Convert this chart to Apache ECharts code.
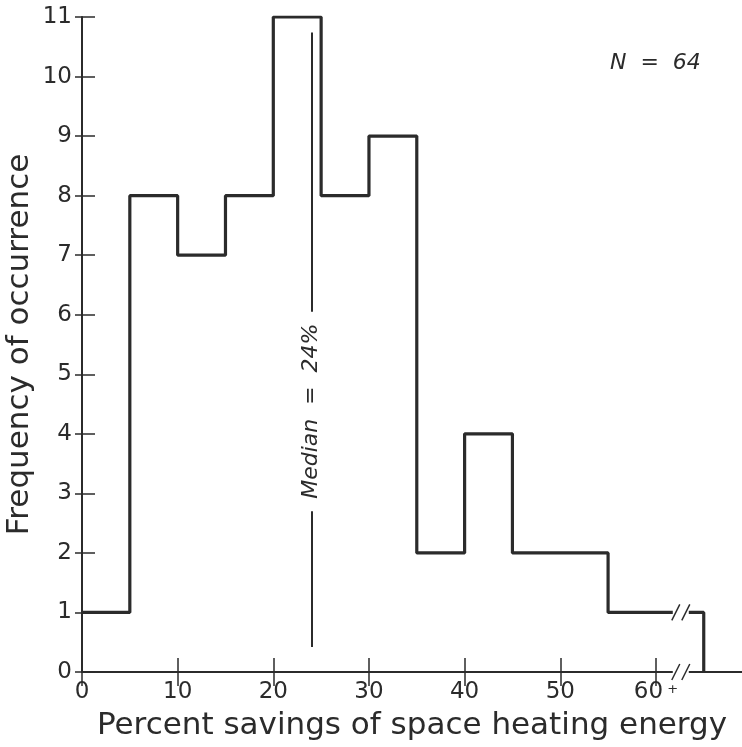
<!DOCTYPE html>
<html>
<head>
<meta charset="utf-8">
<style>
  html, body { margin: 0; padding: 0; background: #fff; }
  #chart { width: 742px; height: 747px; }
</style>
<script src="https://cdn.jsdelivr.net/npm/echarts@6/dist/echarts.min.js"></script>
</head>
<body>
<div id="chart"></div>
<script>
  // 直方图数据（每个区间起点与频数）
  const binStarts = [0, 5, 10, 15, 20, 25, 30, 35, 40, 45, 50, 55, 60];
  const counts = [1, 8, 7, 8, 11, 8, 9, 2, 4, 2, 2, 1, 1];
  const lastBinEnd = 65;
  const xTickValues = [0, 10, 20, 30, 40, 50, 60];
  const medianValue = 24;
  const medianLine = [0.42, 2.7, 6.05, 10.74]; // 两段竖线的上下端
  const medianLabelAt = 4.38;
  const sampleSize = 64;
  const breakAt = 62.6; // 坐标轴断开的位置
  const breakRows = [1, 0];

  const ink = '#2b2b2b';
  const font = 'DejaVu Sans';

  let stepData = binStarts.map((s, i) => [s, counts[i]]);
  stepData.push([lastBinEnd, 0]);

  let chart = echarts.init(document.getElementById('chart'));
  let option = {
    animation: false,
    backgroundColor: '#fff',
    title: {
      text: 'N  =  ' + sampleSize,
      left: 605,
      top: 47,
      textStyle: {fontFamily: font, fontSize: 22, fontWeight: 'normal', fontStyle: 'italic', color: ink}
    },
    grid: {left: 82, right: 0, top: 17, bottom: 75, outerBoundsMode: 'none', containLabel: false},
    xAxis: [
      {
        type: 'value',
        min: 0,
        max: 69,
        interval: 10,
        name: 'Percent savings of space heating energy',
        nameLocation: 'middle',
        nameGap: 38,
        nameMoveOverlap: false,
        nameTextStyle: {fontFamily: font, fontSize: 31, color: ink},
        axisLine: {lineStyle: {color: ink, width: 2}},
        axisTick: {inside: true, length: 14, customValues: xTickValues, lineStyle: {color: ink, width: 1.5}},
        splitLine: {show: false},
        axisLabel: {
          margin: 9,
          customValues: xTickValues,
          fontFamily: font,
          fontSize: 23,
          color: ink,
          formatter: v => v === 60 ? '60{p| +}' : String(v),
          rich: {p: {fontSize: 13, fontFamily: font, color: ink, padding: [0, 0, 6, 0]}}
        }
      },
      {
        type: 'value',
        position: 'top',
        min: 0,
        max: 69,
        interval: 10,
        axisLine: {show: true, lineStyle: {color: ink, width: 2}},
        axisTick: {inside: true, length: 14, customValues: xTickValues, lineStyle: {color: ink, width: 1.5}},
        axisLabel: {show: false},
        splitLine: {show: false}
      }
    ],
    yAxis: [
      {
        type: 'value',
        min: 0,
        max: 11,
        interval: 1,
        name: 'Frequency of occurrence',
        nameLocation: 'middle',
        nameGap: 47,
        nameMoveOverlap: false,
        nameTextStyle: {fontFamily: font, fontSize: 31, color: ink},
        axisLine: {show: true, lineStyle: {color: ink, width: 2}},
        axisTick: {show: true, inside: true, length: 13, lineStyle: {color: ink, width: 1.5}},
        splitLine: {show: false},
        axisLabel: {margin: 10, fontFamily: font, fontSize: 23, color: ink}
      },
      {
        type: 'value',
        position: 'right',
        min: 0,
        max: 11,
        interval: 1,
        axisLine: {show: false},
        axisTick: {show: true, inside: true, length: 7, lineStyle: {color: ink, width: 1.5}},
        axisLabel: {show: false},
        splitLine: {show: false}
      }
    ],
    series: [
      {
        name: 'freq',
        type: 'line',
        step: 'end',
        symbol: 'none',
        data: stepData,
        lineStyle: {color: ink, width: 3.2},
        markLine: {
          silent: true,
          symbol: 'none',
          label: {show: false},
          lineStyle: {color: ink, width: 2, type: 'solid'},
          data: [
            [{coord: [medianValue, medianLine[0]]}, {coord: [medianValue, medianLine[1]]}],
            [{coord: [medianValue, medianLine[2]]}, {coord: [medianValue, medianLine[3]]}]
          ]
        },
        markPoint: {
          silent: true,
          symbol: 'rect',
          symbolSize: 1,
          itemStyle: {color: 'rgba(0,0,0,0)'},
          data: [{coord: [medianValue, medianLabelAt], value: 0}],
          label: {
            show: true,
            position: 'inside',
            rotate: 90,
            formatter: 'Median  =  ' + medianValue + '%',
            fontFamily: font,
            fontSize: 22,
            fontStyle: 'italic',
            color: ink
          }
        }
      },
      {
        // 断轴标记 //
        name: 'break',
        type: 'custom',
        silent: true,
        z: 5,
        data: breakRows.map(r => [breakAt, r]),
        renderItem: (params, api) => {
          let p = api.coord([api.value(0), api.value(1)]);
          let slash = dx => ({
            type: 'line',
            shape: {x1: p[0] + dx - 4, y1: p[1] + 8, x2: p[0] + dx + 4, y2: p[1] - 8},
            style: {stroke: ink, lineWidth: 1.5}
          });
          return {
            type: 'group',
            children: [
              {type: 'rect', shape: {x: p[0] - 8, y: p[1] - 4, width: 16, height: 8}, style: {fill: '#fff'}},
              slash(-5),
              slash(5)
            ]
          };
        }
      }
    ]
  };
  chart.setOption(option);
</script>
</body>
</html>
